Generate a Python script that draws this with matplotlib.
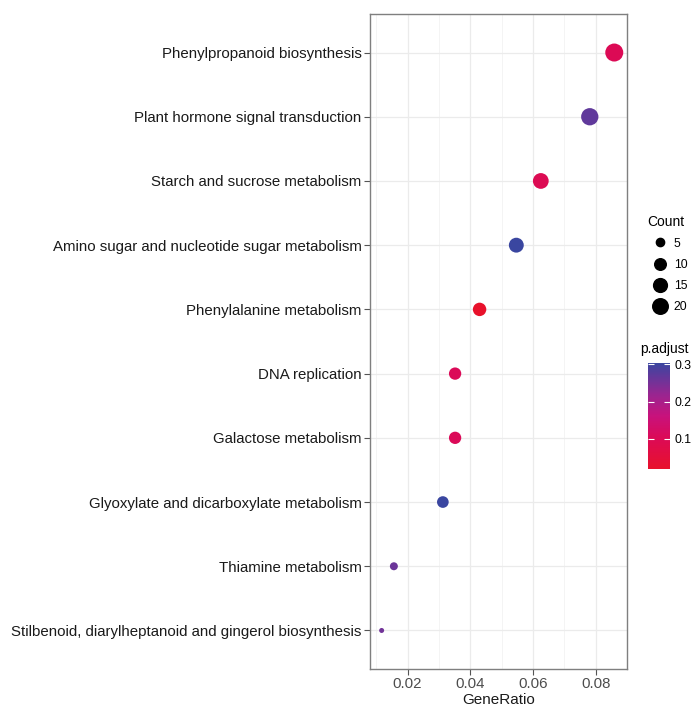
import numpy as np
import matplotlib
matplotlib.use("Agg")
import matplotlib.pyplot as plt
from matplotlib.colors import LinearSegmentedColormap, Normalize
from matplotlib.cm import ScalarMappable
from matplotlib.lines import Line2D

plt.rcParams['font.family'] = ['Liberation Sans', 'DejaVu Sans']

# ---- data (top to bottom) ----
pathways = [
    "Phenylpropanoid biosynthesis",
    "Plant hormone signal transduction",
    "Starch and sucrose metabolism",
    "Amino sugar and nucleotide sugar metabolism",
    "Phenylalanine metabolism",
    "DNA replication",
    "Galactose metabolism",
    "Glyoxylate and dicarboxylate metabolism",
    "Thiamine metabolism",
    "Stilbenoid, diarylheptanoid and gingerol biosynthesis",
]
gene_ratio = [22/256, 20/256, 16/256, 14/256, 11/256, 9/256, 9/256, 8/256, 4/256, 3/256]
counts = [22, 20, 16, 14, 11, 9, 9, 8, 4, 3]
p_adjust = [0.100, 0.270, 0.095, 0.304, 0.019, 0.105, 0.105, 0.304, 0.260, 0.255]

x_ticks = [0.02, 0.04, 0.06, 0.08]
count_breaks = [5, 10, 15, 20]
p_breaks = [0.1, 0.2, 0.3]

# ---- styles ----
cmap = LinearSegmentedColormap.from_list(
    "redblue",
    [(0.0, "#E8112B"), (0.3, "#DB0A58"), (0.5, "#C8127C"),
     (0.7, "#9A2590"), (0.85, "#6A3599"), (1.0, "#3A46A0")])
vmin, vmax = min(p_adjust), max(p_adjust)
norm = Normalize(vmin=vmin, vmax=vmax)

cmin, cmax = min(counts), max(counts)
def diam_px(c):
    return 5.0 + 13.0 * np.sqrt((c - cmin) / (cmax - cmin))

W, H = 698, 707
dpi = 100
fig = plt.figure(figsize=(W / dpi, H / dpi), dpi=dpi)
ax = fig.add_axes([370 / W, (H - 669) / H, (627 - 370) / W, (669 - 14) / H])

n = len(pathways)
ypos = np.arange(n)[::-1] + 1  # top row highest
sizes = [(diam_px(c) * 72 / dpi) ** 2 for c in counts]
ax.scatter(gene_ratio, ypos, s=sizes, c=p_adjust, cmap=cmap, norm=norm,
           linewidths=0, zorder=3)

# expansion like ggplot
xr = max(gene_ratio) - min(gene_ratio)
ax.set_xlim(min(gene_ratio) - 0.05 * xr, max(gene_ratio) + 0.05 * xr)
ax.set_ylim(0.4, n + 0.6)

ax.set_yticks(ypos)
ax.set_yticklabels(pathways, fontsize=10.85, color="#1a1a1a")
ax.set_xticks(x_ticks)
ax.set_xticklabels([f"{t:.2f}" for t in x_ticks], fontsize=10.8, color="#4d4d4d")
ax.set_xticks([0.01, 0.03, 0.05, 0.07, 0.09], minor=True)
ax.tick_params(axis='both', which='major', length=4, width=0.8, color="#555555", pad=2)
ax.tick_params(axis='x', which='major', pad=1.5)
ax.tick_params(axis='x', which='minor', length=0)
ax.grid(True, which='major', color="#ebebeb", linewidth=0.9, zorder=0)
ax.grid(True, which='minor', axis='x', color="#f2f2f2", linewidth=0.6, zorder=0)
ax.set_axisbelow(True)
for sp in ax.spines.values():
    sp.set_color("#7f7f7f")
    sp.set_linewidth(1.0)
ax.set_xlabel("GeneRatio", fontsize=11, color="#1a1a1a", labelpad=1.5)

# ---- size legend ----
handles = [Line2D([], [], marker='o', linestyle='none', color='black',
                  markersize=diam_px(c) * 72 / dpi * 0.9) for c in count_breaks]
leg = fig.legend(handles, [str(c) for c in count_breaks], title="Count",
                 loc='upper left', bbox_to_anchor=(639 / W, 1 - 206 / H),
                 frameon=False, fontsize=8.8, title_fontsize=10,
                 handletextpad=0.15, labelspacing=0.75, borderpad=0.2,
                 handlelength=2.0)
leg._legend_box.align = "left"

# ---- colorbar ----
cax = fig.add_axes([648 / W, (H - 469) / H, 22 / W, (469 - 363) / H])
cb = fig.colorbar(ScalarMappable(norm=norm, cmap=cmap), cax=cax)
cb.outline.set_visible(False)
cb.set_ticks(p_breaks)
cb.set_ticklabels([f"{p:.1f}" for p in p_breaks])
cax.tick_params(axis='y', direction='in', length=4, width=0.8, color='white',
                left=True, right=True, labelsize=8.8, pad=3)
fig.text(640 / W, 1 - 356 / H, "p.adjust", fontsize=10, ha='left', va='bottom')

fig.savefig("out.png", dpi=dpi)
